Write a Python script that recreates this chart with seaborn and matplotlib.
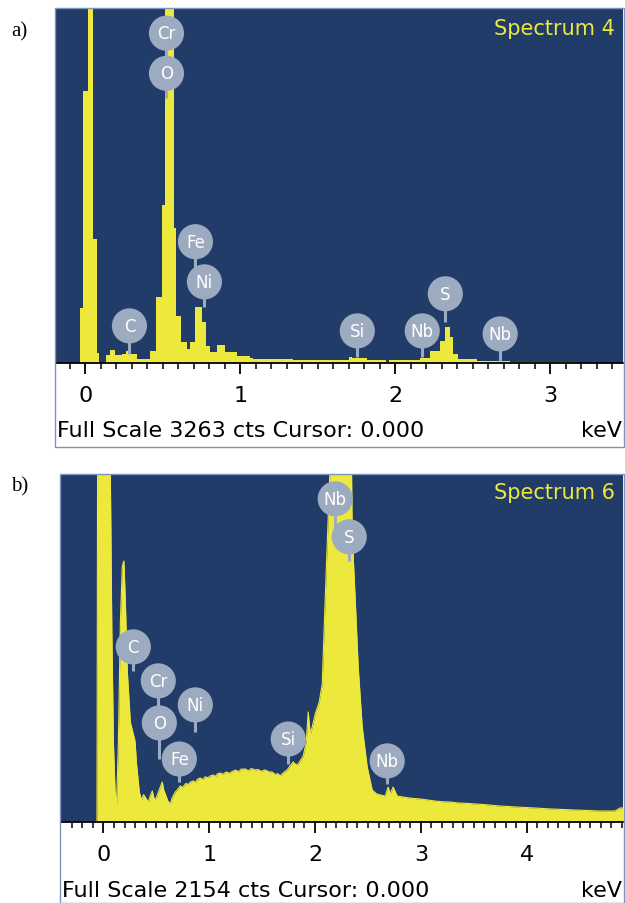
import numpy as np
import pandas as pd
import matplotlib
matplotlib.use("Agg")
import matplotlib.pyplot as plt
from matplotlib.patches import Rectangle
import seaborn as sns

sns.set_style("white")
plt.rcParams["font.family"] = ["DejaVu Sans"]
plt.rcParams["text.color"] = "black"
plt.rcParams["xtick.color"] = "black"

# ---------------- data: spectrum a (Spectrum 4, full scale 3263 cts) ----------------
# left bin edges (keV) and counts per bin
kev_a = [-0.19, -0.032, -0.013, 0.019, 0.052, 0.077, 0.090, 0.135, 0.161, 0.194,
         0.239, 0.265, 0.297, 0.335, 0.419, 0.458, 0.497, 0.516, 0.574, 0.587,
         0.619, 0.658, 0.677, 0.710, 0.755, 0.781, 0.806, 0.852, 0.903, 0.981,
         1.065, 1.084, 1.342, 1.703, 1.723, 1.819, 1.942, 1.961, 2.161, 2.226,
         2.290, 2.323, 2.355, 2.374, 2.406, 2.529, 2.742, 3.174]
cts_a = [0, 508, 2504, 5200, 1146, 92, 0, 74, 120, 74,
         83, 111, 83, 37, 111, 610, 1460, 5200, 1247, 434,
         194, 129, 194, 517, 379, 157, 102, 166, 102, 65,
         46, 37, 32, 55, 46, 28, 9, 28, 46, 111,
         203, 333, 240, 83, 37, 18, 9, 0]
end_a = 3.47
full_a = 3263

labels_a = ["Cr", "O", "Fe", "Ni", "C", "Si", "Nb", "S", "Nb"]
lab_x_a = [0.523, 0.523, 0.710, 0.768, 0.284, 1.755, 2.174, 2.323, 2.677]
lab_y_a = [3040, 2670, 1118, 748, 342, 296, 296, 638, 268]
stem_a = [2670, 2440, 748, 517, 83, 55, 55, 379, 18]

# ---------------- data: spectrum b (Spectrum 6, full scale 2154 cts) ----------------
kev_b = [-0.40, -0.06, -0.05, 0.00, 0.06, 0.08, 0.095, 0.11, 0.125, 0.142,
         0.161, 0.179, 0.194, 0.208, 0.227, 0.255, 0.283, 0.30, 0.312, 0.34,
         0.36, 0.38, 0.40, 0.425, 0.445, 0.463, 0.48, 0.50, 0.52, 0.54,
         0.557, 0.57, 0.585, 0.61, 0.633, 0.65, 0.68, 0.70, 0.727, 0.75,
         0.78, 0.80, 0.822, 0.85, 0.87, 0.89, 0.916, 0.94, 0.96, 0.99,
         1.01, 1.04, 1.06, 1.08, 1.105, 1.13, 1.16, 1.19, 1.228, 1.25,
         1.28, 1.30, 1.341, 1.37, 1.40, 1.435, 1.46, 1.49, 1.53, 1.56,
         1.596, 1.62, 1.65, 1.671, 1.70, 1.737, 1.76, 1.794, 1.82, 1.841,
         1.865, 1.889, 1.917, 1.936, 1.955, 1.974, 2.002, 2.040, 2.068, 2.096,
         2.125, 2.153, 2.247, 2.342, 2.351, 2.380, 2.408, 2.446, 2.493, 2.540,
         2.58, 2.616, 2.663, 2.691, 2.710, 2.738, 2.776, 2.833, 2.88, 2.93,
         2.993, 3.05, 3.10, 3.135, 3.20, 3.277, 3.35, 3.43, 3.513, 3.60,
         3.68, 3.749, 3.85, 3.985, 4.10, 4.221, 4.33, 4.457, 4.58, 4.693,
         4.835, 4.882, 4.91]
cts_b = [0, 0, 4000, 4000, 2600, 1200, 500, 200, 100, 500,
         1240, 1585, 1620, 1366, 930, 620, 546, 500, 373, 186,
         137, 170, 150, 124, 165, 193, 140, 150, 186, 220,
         248, 200, 174, 130, 112, 150, 186, 200, 224, 215,
         240, 232, 248, 255, 245, 266, 273, 262, 280, 275,
         286, 292, 283, 300, 304, 296, 310, 303, 317, 322,
         312, 328, 329, 318, 332, 323, 326, 315, 323, 312,
         310, 296, 300, 286, 305, 323, 345, 373, 355, 360,
         385, 410, 497, 683, 546, 590, 671, 745, 857, 1379,
         1894, 2400, 2500, 2400, 1788, 1379, 963, 590, 342, 199,
         175, 168, 161, 217, 174, 217, 161, 155, 150, 146,
         143, 138, 134, 130, 126, 124, 118, 116, 112, 108,
         103, 99, 95, 90, 86, 81, 78, 75, 71, 68,
         68, 87, 87]
full_b = 2154

labels_b = ["C", "Cr", "O", "Fe", "Ni", "Si", "Nb", "S", "Nb"]
lab_x_b = [0.283, 0.519, 0.529, 0.718, 0.869, 1.747, 2.191, 2.323, 2.682]
lab_y_b = [1087, 876, 615, 391, 727, 515, 2006, 1770, 379]
stem_b = [938, 615, 391, 248, 559, 360, 1770, 1621, 236]

BLUE = "#223c69"
YELLOW = "#ece83c"
BUBBLE = "#9dabc0"


def draw_labels(ax, names, xs, ys, stems):
    ax.vlines(xs, stems, ys, color=BUBBLE, lw=2.2, zorder=3)
    ax.scatter(xs, ys, s=640, color=BUBBLE, edgecolor="none", zorder=4)
    for n, x, y in zip(names, xs, ys):
        ax.text(x, y, n, color="white", fontsize=12, ha="center", va="center", zorder=5)


def style_axis(ax, xmin, xmax, full, ticks):
    ax.set_facecolor(BLUE)
    ax.set_yticks([])
    ax.set_xticks(ticks)
    ax.set_xticks(np.arange(-0.3, xmax, 0.1), minor=True)
    # limits after the ticks, so the minor ticks do not widen the view
    ax.set_xlim(xmin, xmax)
    ax.set_ylim(0, full)
    ax.tick_params(axis="x", which="major", direction="out", length=8, width=1.3,
                   color="black", labelcolor="black", labelsize=16, pad=8, bottom=True)
    ax.tick_params(axis="x", which="minor", direction="out", length=4, width=1.1,
                   color="black", bottom=True)
    ax.set_xlabel("")
    ax.set_ylabel("")
    for s in ["top", "left", "right"]:
        ax.spines[s].set_visible(False)
    ax.spines["bottom"].set_color("black")
    ax.spines["bottom"].set_linewidth(1.3)


W, H = 625, 904
fig = plt.figure(figsize=(W / 100, H / 100), dpi=100)
fig.patch.set_facecolor("white")

# ---------------- panel a ----------------
ax_a = fig.add_axes([56 / W, 1 - 364 / H, 567 / W, 354 / H])
sns.histplot(x=kev_a, weights=cts_a, bins=kev_a + [end_a], element="step",
             fill=True, color=YELLOW, alpha=1, linewidth=0, ax=ax_a)
style_axis(ax_a, -0.19, end_a, full_a, [0, 1, 2, 3])
draw_labels(ax_a, labels_a, lab_x_a, lab_y_a, stem_a)
ax_a.text(0.985, 0.945, "Spectrum 4", transform=ax_a.transAxes, color=YELLOW,
          fontsize=15, ha="right", va="center")
fig.patches.append(Rectangle((55 / W, 1 - 448 / H), 569 / W, 439 / H, transform=fig.transFigure,
                             fill=False, ec="#7d95bd", lw=1))
fig.text(57 / W, 1 - 431 / H, "Full Scale 3263 cts Cursor: 0.000", fontsize=16,
         ha="left", va="center")
fig.text(622 / W, 1 - 431 / H, "keV", fontsize=16, ha="right", va="center")
fig.text(19 / W, 1 - 32 / H, "a)", family="Liberation Serif", fontsize=15,
         ha="center", va="center")

# ---------------- panel b ----------------
ax_b = fig.add_axes([61 / W, 1 - 823 / H, 562 / W, 347 / H])
spec_b = pd.DataFrame({"keV": kev_b, "cts": cts_b})
sns.lineplot(data=spec_b, x="keV", y="cts", color=YELLOW, lw=0.8, ax=ax_b)
ax_b.fill_between(spec_b["keV"], 0, spec_b["cts"], color=YELLOW, lw=0)
style_axis(ax_b, -0.40, 4.91, full_b, [0, 1, 2, 3, 4])
draw_labels(ax_b, labels_b, lab_x_b, lab_y_b, stem_b)
ax_b.text(0.985, 0.95, "Spectrum 6", transform=ax_b.transAxes, color=YELLOW,
          fontsize=15, ha="right", va="center")
fig.patches.append(Rectangle((60 / W, 0), 564 / W, 429 / H, transform=fig.transFigure,
                             fill=False, ec="#7d95bd", lw=1))
fig.text(62 / W, 1 - 891 / H, "Full Scale 2154 cts Cursor: 0.000", fontsize=16,
         ha="left", va="center")
fig.text(622 / W, 1 - 891 / H, "keV", fontsize=16, ha="right", va="center")
fig.text(20 / W, 1 - 487 / H, "b)", family="Liberation Serif", fontsize=15,
         ha="center", va="center")

fig.savefig("out.png", dpi=100)
